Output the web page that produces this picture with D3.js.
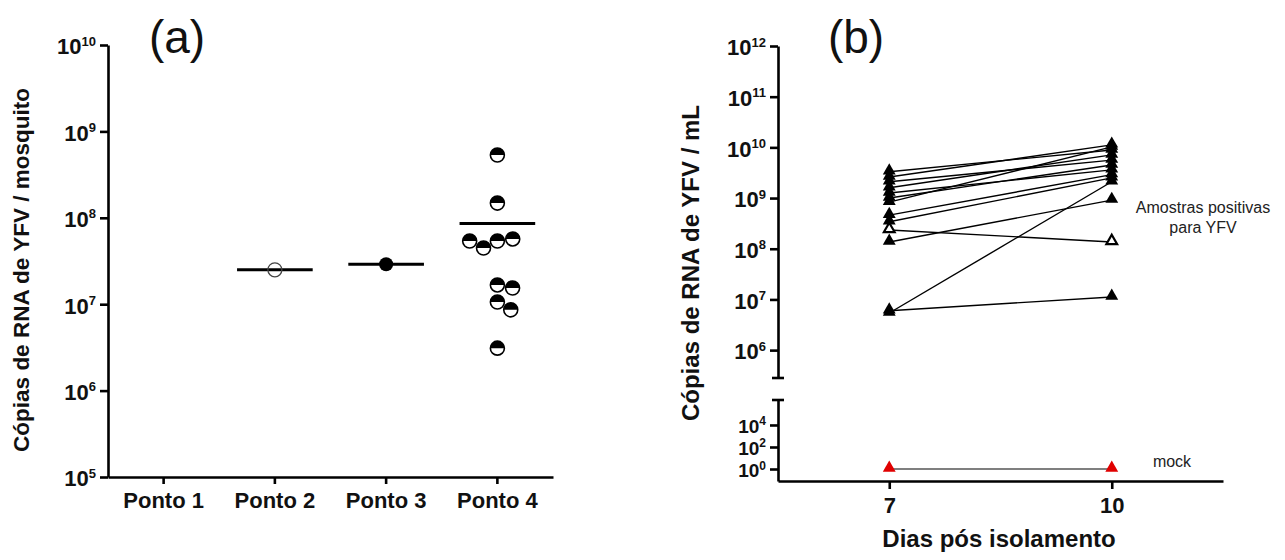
<!DOCTYPE html>
<html><head><meta charset="utf-8">
<script src="https://cdn.jsdelivr.net/npm/d3@7"></script>
<style>
html,body{margin:0;padding:0;background:#fff;}
svg{display:block;font-family:"Liberation Sans",Arial,sans-serif;}
</style></head>
<body>
<svg id="chart" width="1285" height="560"></svg>
<script>
// ---------- DATA ----------
const pontoCategories = ["Ponto 1", "Ponto 2", "Ponto 3", "Ponto 4"];
const ponto1Values = [];
const ponto2Values = [2.5e7];
const ponto3Values = [2.9e7];
const ponto4Values = [5.33e8, 1.48e8, 5.38e7, 5.69e7, 4.47e7, 5.38e7, 1.67e7, 1.54e7, 1.06e7, 8.6e6, 3.1e6];
const yTicksA = [1e5, 1e6, 1e7, 1e8, 1e9, 1e10];

const days = [7, 10];
const day7Values  = [3.3e9, 2.6e9, 2.1e9, 1.6e9, 1.26e9, 1.0e9, 8.3e8, 4.6e8, 3.4e8, 2.35e8, 1.36e8, 5.4e6, 6.0e6];
const day10Values = [8.9e9, 1.12e10, 5.6e9, 7.1e9, 3.6e9, 4.5e9, 1.02e10, 2.9e9, 2.5e9, 1.36e8, 9.1e8, 2.1e9, 1.12e7];
const sampleMarker = ["filled","filled","filled","filled","filled","filled","filled","filled","filled","open","filled","filled","filled"];
const mockValues = [1, 1];
const yTicksBUpper = [1e6, 1e7, 1e8, 1e9, 1e10, 1e11, 1e12];
const yTicksBLower = [1, 1e2, 1e4];

// ---------- SETUP ----------
const svg = d3.select("#chart");
const FONT = '"Liberation Sans",Arial,sans-serif';

function supLabels(g, sz, supSz) {
  g.selectAll(".tick text").each(function(d) {
    const t = d3.select(this);
    const e = Math.round(Math.log10(d));
    t.text(null).attr("font-size", sz).attr("font-weight", "bold").attr("fill", "#111").attr("font-family", FONT);
    t.append("tspan").text("10");
    t.append("tspan").attr("dy", -sz * 0.4).attr("font-size", supSz).text(String(e));
  });
}
function styleAxis(g) {
  g.select(".domain").attr("stroke", "#000").attr("stroke-width", 2.6);
  g.selectAll(".tick line").attr("stroke", "#000").attr("stroke-width", 2.6);
}

// ================= PANEL A =================
const xA = d3.scaleBand().domain(pontoCategories).range([108, 553]);
const yA = d3.scaleLog().domain([1e5, 1e10]).range([477, 45]);

const gA = svg.append("g");
const axYA = gA.append("g").attr("transform", "translate(108,0)")
  .call(d3.axisLeft(yA).tickValues(yTicksA).tickSize(8).tickPadding(4).tickSizeOuter(0));
styleAxis(axYA); supLabels(axYA, 22, 13);
axYA.selectAll(".tick text").attr("dy", "0.4em");

const axXA = gA.append("g").attr("transform", "translate(0,477)")
  .call(d3.axisBottom(xA).tickSize(7).tickPadding(6).tickSizeOuter(0));
styleAxis(axXA);
axXA.selectAll(".tick text").attr("font-size", 22).attr("font-weight", "bold").attr("fill", "#111").attr("font-family", FONT).attr("dy", "0.82em");

// y title
gA.append("text").attr("transform", "translate(29,270) rotate(-90)")
  .attr("text-anchor", "middle").attr("font-size", 22.5).attr("font-weight", "bold").attr("fill", "#111")
  .text("Cópias de RNA de YFV / mosquito");
gA.append("text").attr("x", 177).attr("y", 53).attr("text-anchor", "middle").attr("font-size", 46).attr("fill", "#111").text("(a)");

const groupsA = [
  {cat: "Ponto 1", vals: ponto1Values, style: "open"},
  {cat: "Ponto 2", vals: ponto2Values, style: "open"},
  {cat: "Ponto 3", vals: ponto3Values, style: "filled"},
  {cat: "Ponto 4", vals: ponto4Values, style: "half"}
];
const R = 7;
function beeswarm(vals, cx) {
  const placed = [];
  const D = 2 * R + 1.5;
  vals.forEach(v => {
    const y = yA(v);
    const cands = [0];
    placed.forEach(p => {
      const dy = Math.abs(p.y - y);
      if (dy < D) {
        const dx = Math.sqrt(D * D - dy * dy);
        cands.push(p.dx + dx, p.dx - dx);
      }
    });
    cands.sort((a, b) => Math.abs(a) - Math.abs(b));
    let chosen = 0;
    for (const c of cands) {
      const ok = placed.every(p => Math.hypot(p.dx - c, p.y - y) >= D - 0.01);
      if (ok) { chosen = c; break; }
    }
    placed.push({dx: chosen, y: y, v: v});
  });
  return placed.map(p => ({x: cx + p.dx, y: p.y}));
}

groupsA.forEach(g => {
  if (!g.vals.length) return;
  const cx = xA(g.cat) + xA.bandwidth() / 2;
  const m = d3.mean(g.vals);
  gA.append("line").attr("x1", cx - xA.bandwidth() * 0.34).attr("x2", cx + xA.bandwidth() * 0.34)
    .attr("y1", yA(m)).attr("y2", yA(m)).attr("stroke", "#000").attr("stroke-width", 3);
  const pts = beeswarm(g.vals, cx);
  pts.forEach(p => {
    if (g.style === "open") {
      gA.append("circle").attr("cx", p.x).attr("cy", p.y).attr("r", R).attr("fill", "none").attr("stroke", "#444").attr("stroke-width", 1.3);
    } else if (g.style === "filled") {
      gA.append("circle").attr("cx", p.x).attr("cy", p.y).attr("r", R).attr("fill", "#000");
    } else {
      gA.append("circle").attr("cx", p.x).attr("cy", p.y).attr("r", R).attr("fill", "#fff").attr("stroke", "#000").attr("stroke-width", 1.6);
      gA.append("path").attr("d", `M${p.x - R},${p.y} A${R},${R} 0 0 1 ${p.x + R},${p.y} Z`).attr("fill", "#000");
    }
  });
});

// ================= PANEL B =================
const xB = d3.scaleLinear().domain([5.5, 11.5]).range([778, 1223]);
const yBU = d3.scaleLog().domain([Math.pow(10, 5.45), 1e12]).range([378, 46]);
const yBL = d3.scaleLog().domain([Math.pow(10, -1.09), Math.pow(10, 6.27)]).range([481, 400]);

const gB = svg.append("g");
const axU = gB.append("g").attr("transform", "translate(778,0)")
  .call(d3.axisLeft(yBU).tickValues(yTicksBUpper).tickSize(8).tickPadding(4).tickSizeOuter(0));
styleAxis(axU); supLabels(axU, 22, 13);
axU.selectAll(".tick text").attr("dy", "0.4em");
const axL = gB.append("g").attr("transform", "translate(778,0)")
  .call(d3.axisLeft(yBL).tickValues(yTicksBLower).tickSize(8).tickPadding(4).tickSizeOuter(0));
styleAxis(axL); supLabels(axL, 19, 12);
axL.selectAll(".tick text").attr("dy", "0.4em");
// break caps
gB.append("line").attr("x1", 772).attr("x2", 784).attr("y1", yBU.range()[0]).attr("y2", yBU.range()[0]).attr("stroke", "#000").attr("stroke-width", 2.6);
gB.append("line").attr("x1", 772).attr("x2", 784).attr("y1", yBL.range()[1]).attr("y2", yBL.range()[1]).attr("stroke", "#000").attr("stroke-width", 2.6);

const axXB = gB.append("g").attr("transform", "translate(0,481)")
  .call(d3.axisBottom(xB).tickValues(days).tickFormat(d3.format("d")).tickSize(8).tickPadding(6).tickSizeOuter(0));
styleAxis(axXB);
axXB.selectAll(".tick text").attr("font-size", 22).attr("font-weight", "bold").attr("fill", "#111").attr("font-family", FONT).attr("dy", "0.82em");

gB.append("text").attr("transform", "translate(699,263) rotate(-90)")
  .attr("text-anchor", "middle").attr("font-size", 24).attr("font-weight", "bold").attr("fill", "#111")
  .text("Cópias de RNA de YFV / mL");
gB.append("text").attr("x", 999).attr("y", 547).attr("text-anchor", "middle").attr("font-size", 24).attr("font-weight", "bold").attr("fill", "#111")
  .text("Dias pós isolamento");
gB.append("text").attr("x", 856).attr("y", 53).attr("text-anchor", "middle").attr("font-size", 46).attr("fill", "#111").text("(b)");
gB.append("text").attr("x", 1203).attr("y", 213).attr("text-anchor", "middle").attr("font-size", 16).attr("fill", "#222").text("Amostras positivas");
gB.append("text").attr("x", 1203).attr("y", 233).attr("text-anchor", "middle").attr("font-size", 16).attr("fill", "#222").text("para YFV");
gB.append("text").attr("x", 1172).attr("y", 467).attr("text-anchor", "middle").attr("font-size", 16).attr("fill", "#222").text("mock");

const samples = day7Values.map((v, i) => ({a: v, b: day10Values[i], m: sampleMarker[i]}));
samples.forEach(s => {
  gB.append("line").attr("x1", xB(days[0])).attr("x2", xB(days[1])).attr("y1", yBU(s.a)).attr("y2", yBU(s.b))
    .attr("stroke", "#000").attr("stroke-width", 1.4);
});
gB.append("line").attr("x1", xB(days[0])).attr("x2", xB(days[1])).attr("y1", yBL(mockValues[0])).attr("y2", yBL(mockValues[1]))
  .attr("stroke", "#000").attr("stroke-width", 1.2);

const tri = d3.symbol().type(d3.symbolTriangle).size(72);
const triOpen = d3.symbol().type(d3.symbolTriangle).size(50);
samples.forEach(s => {
  [[days[0], s.a], [days[1], s.b]].forEach(([d, v]) => {
    const x = xB(d), y = yBU(v) - 1;
    if (s.m === "open") {
      gB.append("path").attr("d", triOpen()).attr("transform", `translate(${x},${y})`).attr("fill", "#fff").attr("stroke", "#000").attr("stroke-width", 2.2);
    } else {
      gB.append("path").attr("d", tri()).attr("transform", `translate(${x},${y})`).attr("fill", "#000");
    }
  });
});
mockValues.forEach((v, i) => {
  gB.append("path").attr("d", tri()).attr("transform", `translate(${xB(days[i])},${yBL(v) - 1})`).attr("fill", "#e00000");
});
</script>
</body></html>
